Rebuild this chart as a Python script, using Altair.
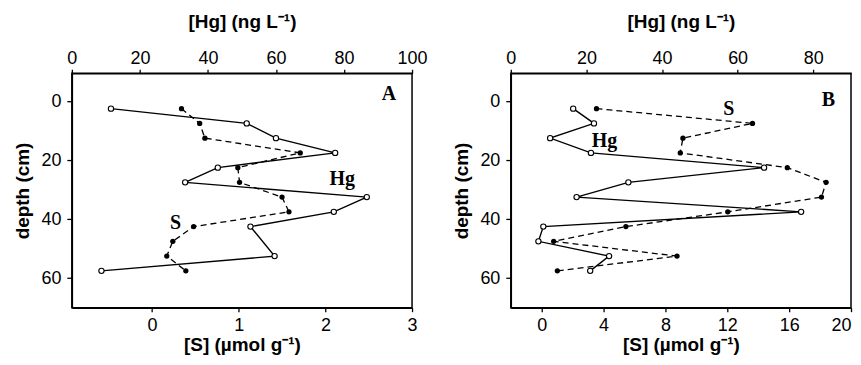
import altair as alt
import pandas as pd

# ---------------- Panel A ----------------
a_hg_depth = [2.5, 7.5, 12.5, 17.5, 22.5, 27.5, 32.5, 37.5, 42.5, 52.5, 57.5]
a_hg = [11.5, 51.4, 60.0, 77.4, 42.9, 33.3, 86.7, 77.0, 52.5, 59.6, 8.7]
a_s_depth = [2.5, 7.5, 12.5, 17.5, 22.5, 27.5, 32.5, 37.5, 42.5, 47.5, 52.5, 57.5]
a_s = [0.34, 0.55, 0.61, 1.71, 0.99, 1.01, 1.50, 1.58, 0.48, 0.24, 0.17, 0.39]

# ---------------- Panel B ----------------
b_hg_depth = [2.5, 7.5, 12.5, 17.5, 22.5, 27.5, 32.5, 37.5, 42.5, 47.5, 52.5, 57.5]
b_hg = [16.5, 22.0, 10.4, 21.2, 67.0, 31.1, 17.4, 76.8, 8.6, 7.3, 26.0, 21.0]
b_s_depth = [2.5, 7.5, 12.5, 17.5, 22.5, 27.5, 32.5, 37.5, 42.5, 47.5, 52.5, 57.5]
b_s = [3.54, 13.63, 9.13, 8.96, 15.88, 18.39, 18.09, 12.03, 5.44, 0.77, 8.75, 1.01]

# axes
depth_domain = [-9.5, 70]
depth_ticks = [0, 10, 20, 30, 40, 50, 60, 70]
a_hg_domain = [0, 100]
a_hg_ticks = [0, 20, 40, 60, 80, 100]
a_s_domain = [-0.925, 3]
a_s_ticks = [0, 1, 2, 3]
b_hg_domain = [0, 90]
b_hg_ticks = [0, 20, 40, 60, 80]
b_s_domain = [-2, 20]
b_s_ticks = [0, 2, 4, 6, 8, 10, 12, 14, 16, 18, 20]

# annotations (in data units)
a_ann_hg_text = ["A", "Hg"]
a_ann_hg_x = [93.2, 79.5]
a_ann_hg_y = [-2.4, 26.2]
a_ann_s_text = ["S"]
a_ann_s_x = [0.27]
a_ann_s_y = [41.4]
b_ann_hg_text = ["B", "Hg"]
b_ann_hg_x = [84.0, 24.8]
b_ann_hg_y = [-0.3, 13.4]
b_ann_s_text = ["S"]
b_ann_s_x = [12.1]
b_ann_s_y = [2.5]

W, H = 341, 235
LAB = 18
TIT = 19
SANS = "Liberation Sans"


def panel(hg_d, hg_v, s_d, s_v, hg_dom, hg_vals, s_dom, s_vals, s_expr, s_flush,
          ah_t, ah_x, ah_y, as_t, as_x, as_y):
    hg_df = pd.DataFrame({"depth": hg_d, "hg": hg_v})
    s_df = pd.DataFrame({"depth": s_d, "s": s_v})
    ah_df = pd.DataFrame({"depth": ah_y, "hg": ah_x, "label": ah_t})
    as_df = pd.DataFrame({"depth": as_y, "s": as_x, "label": as_t})

    common = dict(labelFont=SANS, labelFontSize=LAB, titleFont=SANS, titleFontSize=TIT,
                  titleFontWeight="bold", labelOverlap=False)

    yscale = alt.Scale(domain=depth_domain, reverse=True, nice=False, zero=False)
    y = alt.Y("depth:Q", scale=yscale,
              axis=alt.Axis(title="depth (cm)", values=depth_ticks, format="d",
                            labelExpr="datum.value % 20 === 0 && datum.value < 70 ? datum.label : ''",
                            tickSize=5, labelPadding=6, titlePadding=8, labelFlush=False,
                            **common))
    hg_scale = alt.Scale(domain=hg_dom, nice=False, zero=False)
    xhg = alt.X("hg:Q", scale=hg_scale,
                axis=alt.Axis(orient="top", title="[Hg] (ng L⁻¹)", values=hg_vals, format="d",
                              tickSize=4, labelPadding=2, titlePadding=18, labelFlush=False,
                              **common))
    s_scale = alt.Scale(domain=s_dom, nice=False, zero=False)
    xs = alt.X("s:Q", scale=s_scale,
               axis=alt.Axis(orient="bottom", title="[S] (µmol g⁻¹)", values=s_vals, format="d",
                             labelExpr=s_expr, tickSize=4, labelPadding=5, titlePadding=1,
                             labelFlush=s_flush, **common))

    s_base = alt.Chart(s_df).encode(x=xs, y=y, order="depth:Q")
    s_line = s_base.mark_line(color="black", strokeWidth=1.3, strokeDash=[6, 4])
    s_pts = s_base.mark_point(shape="circle", filled=True, color="black", size=28, opacity=1)
    s_txt = alt.Chart(as_df).mark_text(font="Liberation Serif", fontWeight="bold",
                                       fontSize=20, color="black").encode(
        x=alt.X("s:Q", scale=s_scale), y=alt.Y("depth:Q", scale=yscale), text="label:N")
    s_group = alt.layer(s_line, s_pts, s_txt)

    hg_base = alt.Chart(hg_df).encode(x=xhg, y=y, order="depth:Q")
    hg_line = hg_base.mark_line(color="black", strokeWidth=1.4)
    hg_pts = hg_base.mark_point(shape="circle", filled=True, fill="white", stroke="black",
                                strokeWidth=1.1, size=28, opacity=1)
    hg_txt = alt.Chart(ah_df).mark_text(font="Liberation Serif", fontWeight="bold",
                                        fontSize=20, color="black").encode(
        x=alt.X("hg:Q", scale=hg_scale), y=alt.Y("depth:Q", scale=yscale), text="label:N")
    hg_group = alt.layer(hg_line, hg_pts, hg_txt)

    return alt.layer(s_group, hg_group).resolve_scale(x="independent").properties(
        width=W, height=H)


b_expr = "datum.value % 4 === 0 ? datum.label : ''"

pa = panel(a_hg_depth, a_hg, a_s_depth, a_s, a_hg_domain, a_hg_ticks, a_s_domain,
           a_s_ticks, "datum.label", False,
           a_ann_hg_text, a_ann_hg_x, a_ann_hg_y, a_ann_s_text, a_ann_s_x, a_ann_s_y)
pb = panel(b_hg_depth, b_hg, b_s_depth, b_s, b_hg_domain, b_hg_ticks, b_s_domain,
           b_s_ticks, b_expr, True,
           b_ann_hg_text, b_ann_hg_x, b_ann_hg_y, b_ann_s_text, b_ann_s_x, b_ann_s_y)

chart = alt.hconcat(pa, pb, spacing=24).properties(
    padding={"left": 5, "top": 3, "right": 0, "bottom": 0}
).configure_axis(
    labelColor="black", titleColor="black",
    domainColor="black", tickColor="black", domainWidth=1.5, tickWidth=1.3, grid=False
).configure_view(stroke="black", strokeWidth=1.5)

chart.save("out.html", embed_options={"renderer": "svg", "actions": False})
